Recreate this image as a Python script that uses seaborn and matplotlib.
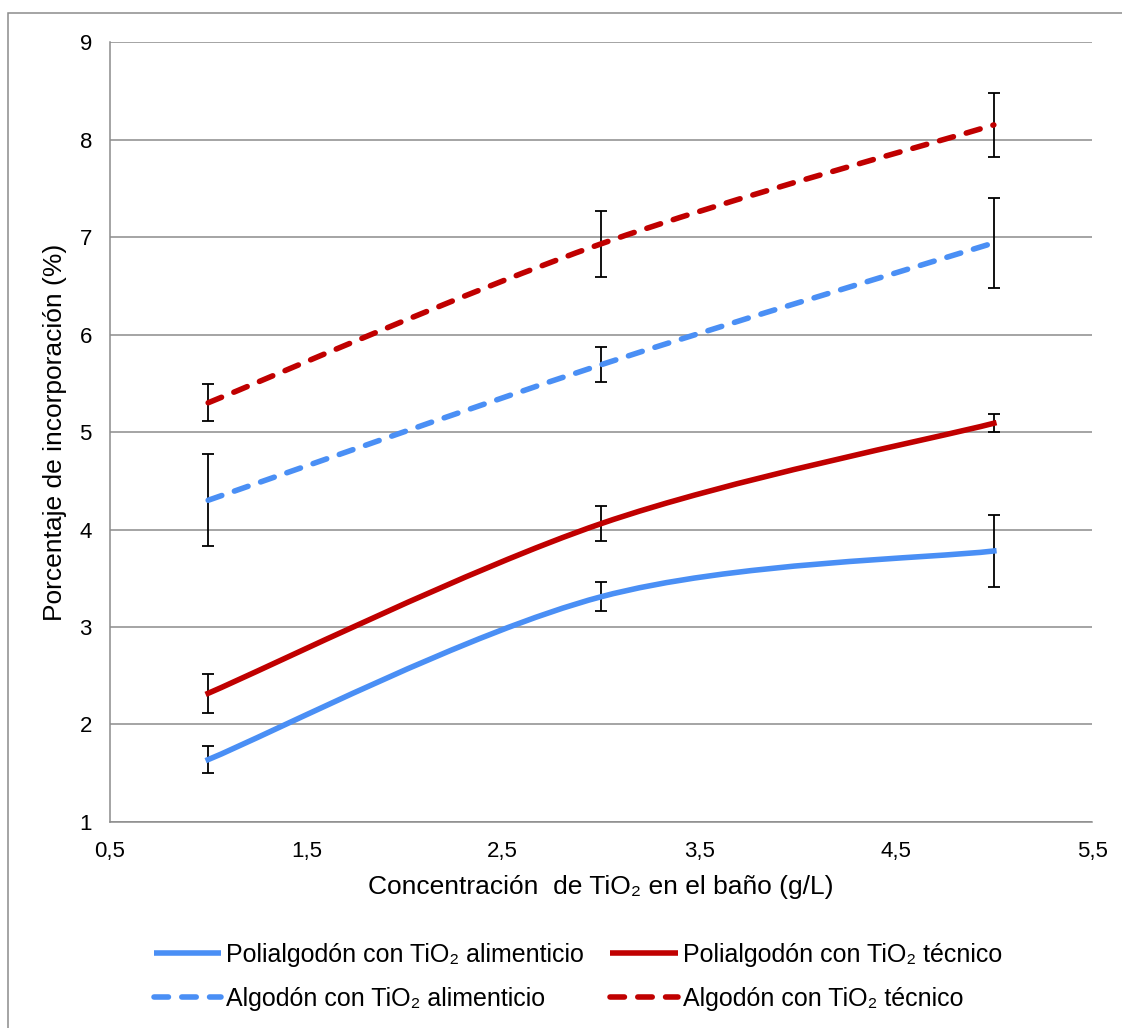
import numpy as np
import matplotlib
matplotlib.use("Agg")
import matplotlib.pyplot as plt
from matplotlib.path import Path
from matplotlib.patches import PathPatch, Rectangle
from matplotlib.lines import Line2D
import seaborn as sns

# data
conc = [1, 3, 5]
poli_alim = [1.64, 3.31, 3.78]
poli_alim_err = [0.14, 0.15, 0.37]
poli_tec = [2.32, 4.06, 5.09]
poli_tec_err = [0.20, 0.18, 0.09]
alg_alim = [4.30, 5.69, 6.94]
alg_alim_err = [0.47, 0.18, 0.46]
alg_tec = [5.30, 6.93, 8.15]
alg_tec_err = [0.19, 0.34, 0.33]

labels = ["Polialgodón con TiO₂ alimenticio", "Polialgodón con TiO₂ técnico",
          "Algodón con TiO₂ alimenticio", "Algodón con TiO₂ técnico"]
x_ticks = [0.5, 1.5, 2.5, 3.5, 4.5, 5.5]
x_ticklabels = ["0,5", "1,5", "2,5", "3,5", "4,5", "5,5"]
y_ticks = [1, 2, 3, 4, 5, 6, 7, 8, 9]

blue = "#4a8ff5"
red = "#c00000"
grey = "#8c8c8c"

sns.set_style("white")
plt.rcParams['font.family'] = ['Liberation Sans', 'DejaVu Sans']
plt.rcParams['text.color'] = 'black'
plt.rcParams['axes.labelcolor'] = 'black'


def smooth_path(x, y):
    # excel-like smoothed line: cubic bezier segments through the data points
    pts = np.column_stack([x, y]).astype(float)
    n = len(pts)
    verts = [pts[0]]
    codes = [Path.MOVETO]
    for i in range(n - 1):
        p_prev = pts[max(i - 1, 0)]
        p_next = pts[min(i + 2, n - 1)]
        c1 = pts[i] + (pts[i + 1] - p_prev) / 6
        c2 = pts[i + 1] - (p_next - pts[i]) / 6
        verts += [c1, c2, pts[i + 1]]
        codes += [Path.CURVE4] * 3
    return Path(verts, codes)


fig, ax = plt.subplots(figsize=(11.22, 10.28), dpi=100)
fig.subplots_adjust(left=0.098, right=0.9733, top=0.9591, bottom=0.2004)

dash = (0, (2.6, 2.4))
series = [
    (poli_alim, poli_alim_err, blue, "-", "projecting"),
    (poli_tec, poli_tec_err, red, "-", "projecting"),
    (alg_alim, alg_alim_err, blue, dash, "round"),
    (alg_tec, alg_tec_err, red, dash, "round"),
]

handles = []
for vals, err, color, ls, cap in series:
    ax.errorbar(conc, vals, yerr=err, fmt="none", ecolor="black",
                elinewidth=1.3, capsize=4.3, capthick=1.3, zorder=2)
    ax.add_patch(PathPatch(smooth_path(conc, vals), fill=False, edgecolor=color,
                           lw=4, linestyle=ls, capstyle=cap, joinstyle="round", zorder=3))
    handles.append(Line2D([], [], color=color, lw=4, linestyle=ls,
                          solid_capstyle="butt", dash_capstyle="round"))

ax.set_xlim(0.5, 5.5)
ax.set_ylim(1, 9)
ax.set_xticks(x_ticks)
ax.set_xticklabels(x_ticklabels)
ax.set_yticks(y_ticks)
ax.tick_params(axis="both", length=0, labelsize=16, colors="black")
ax.tick_params(axis="y", pad=13)
ax.tick_params(axis="x", pad=14)

ax.yaxis.grid(True, color=grey, lw=1.1)
ax.xaxis.grid(False)
ax.set_axisbelow(True)
for s in ["top", "right"]:
    ax.spines[s].set_visible(False)
for s in ["left", "bottom"]:
    ax.spines[s].set_color(grey)
    ax.spines[s].set_linewidth(1.1)

ax.set_xlabel("Concentración  de TiO₂ en el baño (g/L)", fontsize=19, labelpad=9)
ax.set_ylabel("Porcentaje de incorporación (%)", fontsize=19, labelpad=9)

# legend: column order so rows read poli / algodón
order = [0, 2, 1, 3]
fig.legend([handles[i] for i in order], [labels[i] for i in order], ncol=2,
           loc="center", bbox_to_anchor=(0.515, 0.0497), frameon=False,
           fontsize=18, handlelength=2.7, handletextpad=0.2,
           columnspacing=1.05, labelspacing=0.8)

# chart area border (only left and top visible in the reference)
fig.patches.append(Rectangle((8 / 1122, -0.5), 2, 0.5 + 1 - 13 / 1028,
                             transform=fig.transFigure, fill=False,
                             edgecolor=grey, lw=1.1))

fig.savefig("out.png", dpi=100)
